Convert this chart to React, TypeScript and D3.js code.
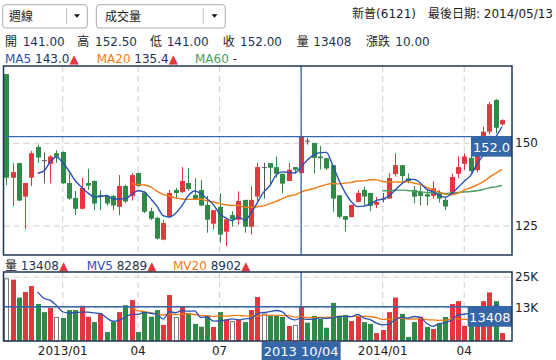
import * as d3 from "d3";

// weekly candles, 新普(6121)
const opens = [170.9, 139.6, 144.0, 133.9, 139.6, 148.9, 144.9, 143.8, 147.0, 147.4,
  138.0, 133.5, 130.2, 138.0, 138.6, 134.4, 134.1, 134.1, 130.8, 137.1,
  134.1, 141.0, 135.1, 129.5, 127.5, 120.9, 127.7, 135.9, 135.3, 138.0,
  134.4, 135.9, 131.4, 125.7, 130.8, 123.3, 128.3, 126.9, 132.9, 124.8,
  133.9, 142.8, 144.0, 142.8, 140.8, 138.6, 142.8, 141.0, 150.8, 150.1,
  146.0, 145.5, 143.4, 134.3, 128.0, 127.7, 132.3, 135.9, 135.0, 131.4,
  133.3, 133.3, 140.7, 143.4, 139.4, 135.9, 135.3, 134.6, 134.1, 135.1,
  132.9, 134.6, 140.8, 143.8, 145.6, 141.9, 148.5, 153.5, 163.1, 155.7];
const highs = [171.0, 144.0, 144.2, 138.0, 147.7, 149.5, 147.2, 146.4, 147.9, 147.5,
  140.9, 135.6, 139.6, 142.3, 138.8, 135.9, 134.4, 134.4, 140.4, 137.5,
  141.0, 141.2, 135.6, 130.5, 127.8, 126.9, 135.9, 136.5, 142.8, 142.5,
  139.5, 138.9, 134.1, 129.8, 134.9, 127.3, 129.5, 135.5, 132.9, 137.0,
  144.1, 144.1, 144.0, 146.0, 140.8, 144.0, 142.8, 152.5, 151.7, 150.1,
  149.2, 145.5, 143.4, 134.3, 128.0, 131.4, 135.9, 136.9, 135.0, 133.8,
  135.0, 141.0, 147.0, 143.4, 140.9, 137.1, 137.3, 136.1, 138.5, 135.9,
  133.5, 140.9, 146.0, 147.0, 146.7, 149.5, 155.0, 162.5, 163.3, 157.3];
const lows = [137.3, 131.1, 132.5, 124.0, 137.1, 144.1, 137.9, 137.9, 144.1, 137.6,
  132.9, 128.3, 130.0, 135.9, 129.8, 129.8, 131.2, 129.8, 128.3, 132.0,
  132.7, 136.8, 128.9, 126.8, 120.9, 120.7, 127.4, 133.1, 135.0, 135.6,
  133.2, 131.0, 123.0, 124.0, 120.0, 119.0, 124.8, 125.4, 123.0, 122.4,
  132.6, 133.3, 137.4, 139.6, 134.9, 138.6, 140.8, 141.0, 149.6, 140.9,
  142.1, 141.9, 129.3, 127.3, 123.4, 127.7, 132.3, 131.1, 129.5, 130.4,
  132.1, 133.3, 139.9, 138.6, 137.9, 131.9, 131.3, 131.3, 133.3, 132.1,
  129.8, 134.6, 139.5, 142.0, 140.9, 141.2, 147.5, 152.8, 153.0, 155.3];
const closes = [139.6, 141.3, 132.7, 138.0, 147.0, 145.7, 144.9, 146.0, 146.0, 137.9,
  133.3, 130.2, 136.5, 137.2, 131.8, 133.9, 131.8, 131.2, 137.1, 132.4,
  140.4, 137.1, 129.3, 127.2, 121.2, 125.9, 135.0, 135.0, 138.6, 136.2,
  133.2, 131.2, 126.9, 129.8, 122.4, 127.0, 127.0, 132.6, 124.8, 132.9,
  142.8, 142.8, 142.6, 140.8, 137.8, 142.0, 142.0, 152.0, 150.8, 145.6,
  145.5, 142.4, 133.3, 127.8, 126.9, 131.4, 135.0, 133.9, 131.1, 132.3,
  133.3, 139.5, 143.4, 140.1, 138.6, 133.9, 134.1, 133.9, 136.4, 133.3,
  130.9, 139.8, 142.8, 146.0, 141.6, 148.0, 153.5, 161.8, 154.7, 157.0];
const volumes = [24500, 24000, 17000, 19200, 21500, 14500, 11300, 13000, 9400, 9000,
  12100, 12100, 13800, 9500, 7400, 10800, 3500, 7400, 11300, 14000,
  16000, 3500, 11300, 9500, 12100, 6300, 18000, 9400, 13700, 11000,
  6700, 5600, 10000, 5500, 11300, 8500, 7800, 8300, 7400, 12100,
  17200, 10800, 9800, 9800, 9400, 5900, 6300, 13408, 7200, 9800,
  8600, 5200, 14900, 9400, 10200, 7800, 9900, 7400, 6700, 3100,
  4300, 11300, 17000, 10600, 1600, 7400, 9500, 5500, 4700, 6900,
  9400, 14500, 15600, 5900, 9000, 11000, 15600, 19000, 15600, 3100];

const tickIndex = [9, 21, 34, 47, 60, 73];
const tickLabels = ["2013/01", "04", "07", "10", "2014/01", "04"];
const priceTicks = [125, 150];
const volTicks = [13000, 25000];
const volTickLabels = ["13K", "25K"];
const focus = 47;
const focusDate = "2013 10/04";

const RED = "#e2373f";
const GREEN = "#2f8a47";
const GRAY = "#555";
const BLUE = "#2a52b0";
const ORANGE = "#f47a14";
const MA60C = "#4a9e62";
const CROSS = "#3467a8";
const BORDER = "#1f3556";
const GRID = "#cfcfcf";
const NUM = "#1e3450";

function movingAvg(vals: number[], n: number) {
  return vals.map((_, i) => (i < n ? null : d3.mean(vals.slice(i - n + 1, i + 1)) as number));
}

export default function App() {
  const left = 3.5, right = 512;
  const x = d3.scaleLinear().domain([0, 79]).range([6.3, 501.9]);
  const yP = d3.scaleLinear().domain([116.25, 173.35]).range([255, 66]);
  const yV = d3.scaleLinear().domain([0, 27000]).range([341, 272]);

  const ma5 = movingAvg(closes, 5);
  const ma20 = movingAvg(closes, 20);
  const ma60 = movingAvg(closes, 60);
  const mv5 = movingAvg(volumes, 5);
  const mv20 = movingAvg(volumes, 20);

  const lineP = d3.line<number | null>()
    .defined((d) => d != null)
    .x((_, i) => x(i))
    .y((d) => yP(d as number))
    .curve(d3.curveMonotoneX);
  const lineV = d3.line<number | null>()
    .defined((d) => d != null)
    .x((_, i) => x(i))
    .y((d) => yV(d as number))
    .curve(d3.curveMonotoneX);

  const bw = 5;
  const fx = x(focus);

  return (
    <svg width={556} height={360} style={{ position: "absolute", left: 0, top: 0, background: "#fff" }}
      fontFamily="'DejaVu Sans', 'Noto Sans CJK TC', sans-serif" fontSize={12}>
      {/* header */}
      <rect x={2.7} y={4.7} width={84.6} height={23.3} rx={3} fill="#fff" stroke="#aaa" />
      <line x1={66.7} x2={66.7} y1={8.5} y2={23.5} stroke="#bbb" />
      <path d="M74,14.3L80,14.3L77,17.8Z" fill="#111" />
      <text x={9} y={20.8} fill="#222">週線</text>
      <rect x={96.3} y={4.7} width={129} height={23.3} rx={3} fill="#fff" stroke="#aaa" />
      <line x1={203.3} x2={203.3} y1={8.5} y2={23.5} stroke="#bbb" />
      <path d="M211.5,14.3L217.5,14.3L214.5,17.8Z" fill="#111" />
      <text x={105} y={20.8} fill="#222">成交量</text>
      <text x={553} y={17.7} textAnchor="end" fill="#222">新普(6121)　最後日期: 2014/05/13</text>

      <g>
        <text x={5} y={45.7} fill="#222">開</text><text x={22.7} y={45.7} fill={NUM}>141.00</text>
        <text x={77.3} y={45.7} fill="#222">高</text><text x={95} y={45.7} fill={NUM}>152.50</text>
        <text x={150} y={45.7} fill="#222">低</text><text x={166.7} y={45.7} fill={NUM}>141.00</text>
        <text x={222.7} y={45.7} fill="#222">收</text><text x={240} y={45.7} fill={NUM}>152.00</text>
        <text x={296.7} y={45.7} fill="#222">量</text><text x={313.3} y={45.7} fill={NUM}>13408</text>
        <text x={366} y={45.7} fill="#222">漲跌</text><text x={395.3} y={45.7} fill={NUM}>10.00</text>
      </g>
      <g>
        <text x={5} y={62.5}>
          <tspan fill={BLUE}>MA5</tspan><tspan fill={NUM}> 143.0</tspan><tspan fill={RED}>▲</tspan>
        </text>
        <text x={96.7} y={62.5}>
          <tspan fill={ORANGE}>MA20</tspan><tspan fill={NUM}> 135.4</tspan><tspan fill={RED}>▲</tspan>
        </text>
        <text x={195} y={62.5}>
          <tspan fill={MA60C}>MA60</tspan><tspan fill={NUM}> -</tspan>
        </text>
      </g>

      {/* price panel grid */}
      {tickIndex.map((t) => (
        <line key={"gp" + t} x1={x(t)} x2={x(t)} y1={66} y2={255} stroke={GRID} strokeDasharray="6,4" />
      ))}
      {priceTicks.map((p) => (
        <g key={"pt" + p}>
          <line x1={left} x2={right} y1={yP(p)} y2={yP(p)} stroke={GRID} strokeDasharray="6,4" />
          <text x={515} y={yP(p)} dominantBaseline="central" fill="#222">{p}</text>
        </g>
      ))}

      {/* candles */}
      {opens.map((o, i) => {
        const c = closes[i];
        const col = c > o ? RED : c < o ? GREEN : GRAY;
        const cx = Math.round(x(i));
        const top = yP(Math.max(o, c));
        const h = Math.max(1, Math.abs(yP(o) - yP(c)));
        return (
          <g key={"c" + i}>
            <line x1={cx + 0.5} x2={cx + 0.5} y1={yP(highs[i])} y2={yP(lows[i])} stroke={col} />
            <rect x={cx - 2} y={top} width={bw} height={h} fill={col} />
          </g>
        );
      })}

      <path d={lineP(ma60) ?? ""} fill="none" stroke={MA60C} strokeWidth={1.4} />
      <path d={lineP(ma20) ?? ""} fill="none" stroke={ORANGE} strokeWidth={1.4} />
      <path d={lineP(ma5) ?? ""} fill="none" stroke={BLUE} strokeWidth={1.4} />

      {/* crosshair price */}
      <line x1={fx} x2={fx} y1={66} y2={255} stroke={CROSS} strokeWidth={1.3} />
      <line x1={left} x2={right} y1={yP(closes[focus])} y2={yP(closes[focus])} stroke={CROSS} strokeWidth={1.3} />
      <rect x={471} y={yP(closes[focus])} width={right - 471} height={20} fill={CROSS} />
      <text x={491.5} y={yP(closes[focus]) + 10.5} textAnchor="middle" dominantBaseline="central" fill="#fff" fontSize={13}>
        {closes[focus].toFixed(1)}
      </text>

      <rect x={left} y={66} width={right - left} height={189} fill="none" stroke={BORDER} strokeWidth={1.5} />

      {/* volume header */}
      <text x={5} y={269.5}>
        <tspan fill="#222">量</tspan><tspan fill={NUM}> 13408</tspan><tspan fill={RED}>▲</tspan>
      </text>
      <text x={86.7} y={269.5}>
        <tspan fill={BLUE}>MV5</tspan><tspan fill={NUM}> 8289</tspan><tspan fill={RED}>▲</tspan>
      </text>
      <text x={173} y={269.5}>
        <tspan fill={ORANGE}>MV20</tspan><tspan fill={NUM}> 8902</tspan><tspan fill={RED}>▲</tspan>
      </text>

      {/* volume panel */}
      {tickIndex.map((t) => (
        <line key={"gv" + t} x1={x(t)} x2={x(t)} y1={272} y2={341} stroke={GRID} strokeDasharray="6,4" />
      ))}
      {volTicks.map((v, k) => (
        <g key={"vt" + v}>
          <line x1={left} x2={right} y1={yV(v)} y2={yV(v)} stroke={GRID} strokeDasharray="6,4" />
          <text x={515} y={yV(v)} dominantBaseline="central" fill="#222">{volTickLabels[k]}</text>
        </g>
      ))}
      {volumes.map((v, i) => {
        const cx = Math.round(x(i));
        const prev = i > 0 ? closes[i - 1] : closes[i];
        const up = closes[i] > prev, down = closes[i] < prev;
        if (!up && !down) {
          return (
            <rect key={"v" + i} x={cx - 1.5} y={yV(v) + 0.5} width={bw - 1} height={yV(0) - yV(v) - 0.5}
              fill="#fff" stroke="#777" />
          );
        }
        return <rect key={"v" + i} x={cx - 2} y={yV(v)} width={bw} height={yV(0) - yV(v)} fill={up ? RED : GREEN} />;
      })}
      <path d={lineV(mv20) ?? ""} fill="none" stroke={ORANGE} strokeWidth={1.3} />
      <path d={lineV(mv5) ?? ""} fill="none" stroke={BLUE} strokeWidth={1.3} />

      <line x1={fx} x2={fx} y1={272} y2={341} stroke={CROSS} strokeWidth={1.3} />
      <line x1={left} x2={right} y1={yV(volumes[focus])} y2={yV(volumes[focus])} stroke={CROSS} strokeWidth={1.3} />
      <rect x={467.7} y={yV(volumes[focus])} width={right - 467.7} height={20} fill={CROSS} />
      <text x={489.8} y={yV(volumes[focus]) + 10.5} textAnchor="middle" dominantBaseline="central" fill="#fff" fontSize={13}>
        {volumes[focus]}
      </text>

      <rect x={left} y={272} width={right - left} height={69} fill="none" stroke={BORDER} strokeWidth={1.5} />

      {/* x axis; the focused week's own tick sits under the date box */}
      {tickIndex.map((t, k) => t === focus ? null : (
        <text key={"xl" + t} x={x(t)} y={351} textAnchor="middle" dominantBaseline="central" fill="#222">
          {tickLabels[k]}
        </text>
      ))}
      <rect x={fx - 39.5} y={342} width={79} height={18} fill={CROSS} />
      <text x={fx} y={351.5} textAnchor="middle" dominantBaseline="central" fill="#fff" fontSize={13}>{focusDate}</text>
    </svg>
  );
}
